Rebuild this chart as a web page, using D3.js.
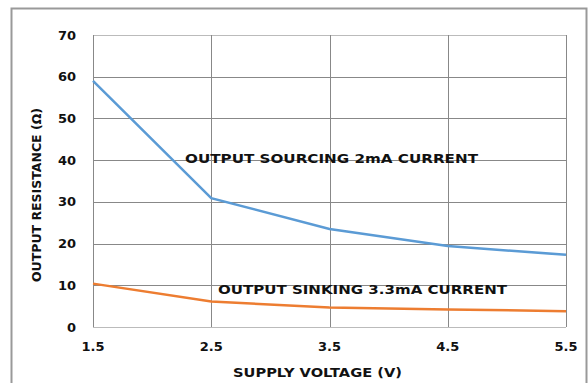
<!DOCTYPE html>
<html>
<head>
<meta charset="utf-8">
<script src="https://cdn.jsdelivr.net/npm/d3@7"></script>
<style>
  body { margin: 0; background: #fff; }
  text { font-family: "DejaVu Sans", Verdana, sans-serif; font-weight: bold; fill: #111; }
</style>
</head>
<body>
<svg id="chart" width="588" height="383"></svg>
<script>
// supply voltage (V)
var voltages = [1.5, 2.5, 3.5, 4.5, 5.5];
var sourcing = [59, 30.9, 23.5, 19.4, 17.3];   // output sourcing 2mA
var sinking = [10.4, 6.1, 4.7, 4.2, 3.8];      // output sinking 3.3mA
var yTicks = [0, 10, 20, 30, 40, 50, 60, 70];

var svg = d3.select("#chart");

var margin = {left: 93, top: 35, right: 566, bottom: 327};

var x = d3.scaleLinear().domain([1.5, 5.5]).range([margin.left, margin.right]);
var y = d3.scaleLinear().domain([0, 70]).range([margin.bottom, margin.top]);

// outer frame
svg.append("rect")
  .attr("x", 11.5).attr("y", 8.5)
  .attr("width", 575).attr("height", 400)
  .attr("fill", "none").attr("stroke", "#999").attr("stroke-width", 2);

// grid
svg.append("g").selectAll("line.h").data(yTicks).enter().append("line")
  .attr("x1", margin.left).attr("x2", margin.right)
  .attr("y1", function(d) { return Math.round(y(d)) + 0.5; })
  .attr("y2", function(d) { return Math.round(y(d)) + 0.5; })
  .attr("stroke", function(d) { return (d === 0 || d === 70) ? "#bbb" : "#888"; });

svg.append("g").selectAll("line.v").data(voltages).enter().append("line")
  .attr("y1", margin.top).attr("y2", margin.bottom)
  .attr("x1", function(d) { return Math.round(x(d)) + 0.5; })
  .attr("x2", function(d) { return Math.round(x(d)) + 0.5; })
  .attr("stroke", "#888");

// tick labels
svg.append("g").selectAll("text").data(yTicks).enter().append("text")
  .attr("x", 76).attr("y", function(d) { return y(d); })
  .attr("dy", "0.35em").attr("text-anchor", "end")
  .style("font-size", "13px")
  .text(function(d) { return d; });

svg.append("g").selectAll("text").data(voltages).enter().append("text")
  .attr("x", function(d) { return x(d); }).attr("y", 346)
  .attr("dy", "0.35em").attr("text-anchor", "middle")
  .style("font-size", "13px")
  .text(function(d) { return d.toFixed(1); });

// axis titles (text in the picture is a bit stretched, so fix the widths)
svg.append("text")
  .attr("x", 233).attr("y", 373).attr("dy", "0.35em")
  .attr("textLength", 169).attr("lengthAdjust", "spacingAndGlyphs")
  .style("font-size", "12.5px")
  .text("SUPPLY VOLTAGE (V)");

svg.append("text")
  .attr("transform", "translate(37,282) rotate(-90)")
  .attr("dy", "0.35em")
  .attr("textLength", 174).attr("lengthAdjust", "spacingAndGlyphs")
  .style("font-size", "12px")
  .text("OUTPUT RESISTANCE (\u03A9)");

// lines
var line = d3.line()
  .x(function(d, i) { return x(voltages[i]); })
  .y(function(d) { return y(d); });

svg.append("path").datum(sourcing)
  .attr("d", line).attr("fill", "none")
  .attr("stroke", "#5B9BD5").attr("stroke-width", 2.5);

svg.append("path").datum(sinking)
  .attr("d", line).attr("fill", "none")
  .attr("stroke", "#ED7D31").attr("stroke-width", 2.5);

// annotations
svg.append("text")
  .attr("x", 185).attr("y", 159).attr("dy", "0.35em")
  .attr("textLength", 293).attr("lengthAdjust", "spacingAndGlyphs")
  .style("font-size", "12.5px")
  .text("OUTPUT SOURCING 2mA CURRENT");

svg.append("text")
  .attr("x", 218).attr("y", 290).attr("dy", "0.35em")
  .attr("textLength", 289).attr("lengthAdjust", "spacingAndGlyphs")
  .style("font-size", "12.5px")
  .text("OUTPUT SINKING 3.3mA CURRENT");
</script>
</body>
</html>
